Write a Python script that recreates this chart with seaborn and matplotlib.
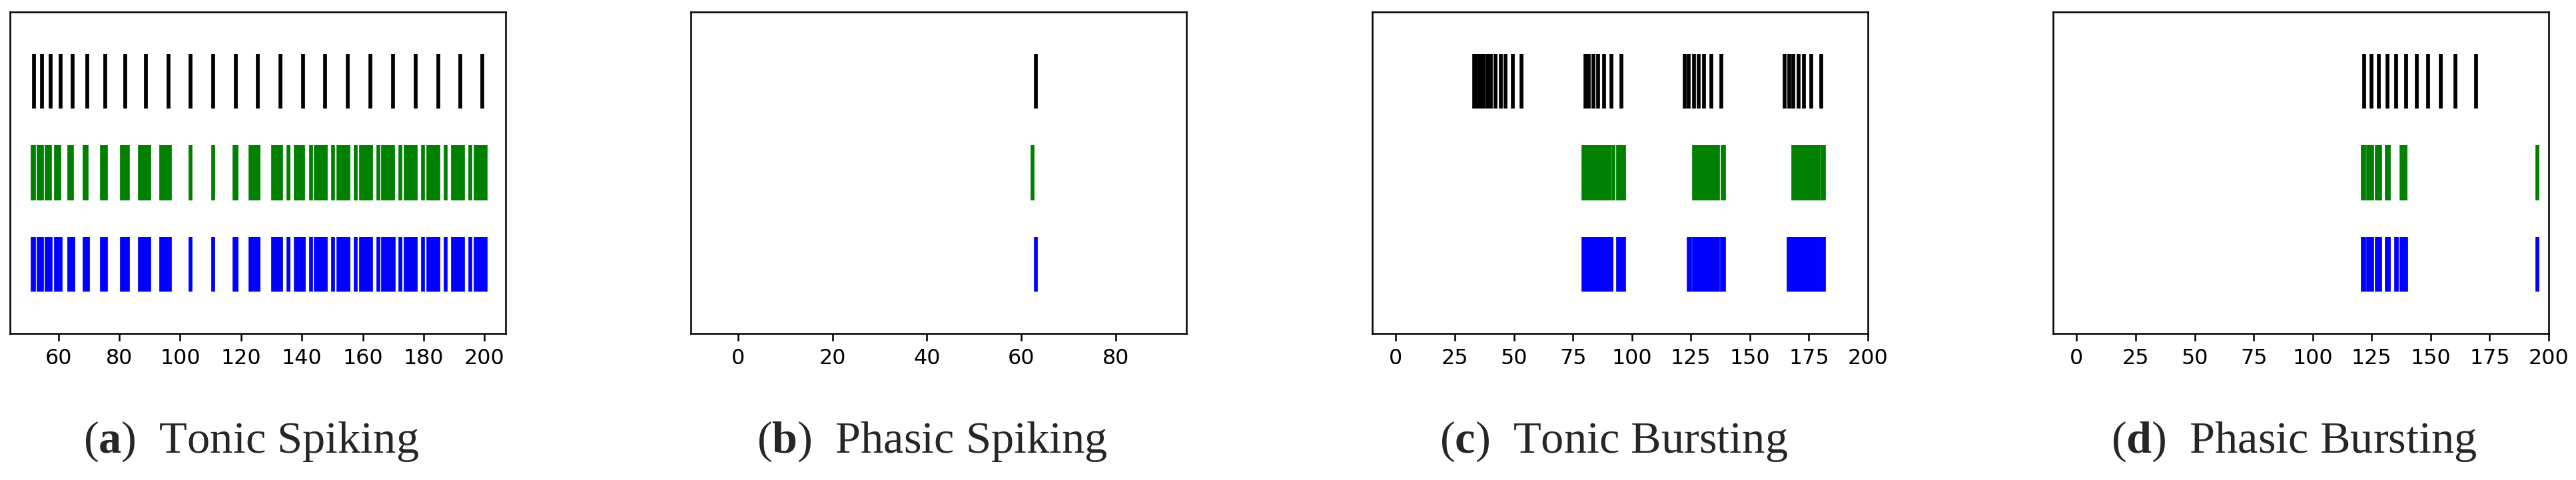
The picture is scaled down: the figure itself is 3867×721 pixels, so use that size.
# Raster plots: reference spikes (black) vs two model outputs (green, blue)
import numpy as np
import seaborn as sns
import matplotlib.pyplot as plt

# ------------- Spike times -------------
# (a) Tonic Spiking
ts_black = [51.9, 54.5, 57.4, 60.7, 64.7, 69.5, 75.5, 81.9, 88.8, 96.1, 103.5, 110.8,
            118.2, 125.6, 133.0, 140.4, 147.7, 155.1, 162.5, 169.9, 177.3, 184.7, 192.0, 199.3]
ts_green = [51.5, 51.9, 53.4, 54.0, 54.7, 56.2, 56.8, 57.3, 59.3, 59.8, 60.3, 63.6, 64.0, 64.4,
            68.6, 69.2, 74.2, 74.9, 75.7, 80.9, 81.6, 82.2, 82.8, 86.8, 87.5, 88.3, 89.0, 89.8,
            93.8, 94.5, 95.2, 96.0, 96.7, 103.5, 110.9, 117.9, 118.5, 123.1, 124.2, 124.9, 125.7,
            130.5, 131.6, 132.4, 133.1, 135.5, 138.0, 138.8, 139.6, 140.4, 142.9,
            144.6, 145.4, 146.2, 147.0, 147.8, 150.3, 152.0, 152.6, 153.7, 154.5, 155.2, 157.6,
            159.5, 160.3, 161.1, 161.9, 162.7, 165.1, 166.6, 167.4, 168.2, 169.0, 169.9, 172.4,
            174.0, 174.8, 175.6, 176.5, 177.3, 179.7, 181.6, 182.4, 183.2, 184.0, 184.8, 187.2,
            189.7, 190.5, 191.3, 192.2, 193.0, 195.3, 197.1, 197.9, 198.7, 199.5, 200.4]
ts_blue = [51.5, 51.9, 53.4, 54.0, 54.7, 56.2, 56.8, 57.5, 59.3, 60.0, 60.7, 63.6, 64.2, 64.9,
           68.6, 69.1, 69.7, 74.2, 74.9, 75.7, 80.9, 81.6, 82.2, 82.8, 86.8, 87.5, 88.3, 89.0, 89.8,
           93.8, 94.5, 95.2, 96.0, 96.7, 103.5, 110.9, 117.9, 118.5, 123.1, 124.2, 124.9, 125.7,
           130.5, 131.6, 132.4, 133.1, 135.5, 138.0, 138.8, 139.6, 140.6, 142.9,
           144.6, 145.4, 146.2, 147.0, 147.8, 150.3, 152.0, 152.6, 153.7, 154.5, 155.2, 157.7,
           159.5, 160.3, 161.1, 161.9, 162.7, 165.1, 166.6, 167.4, 168.3, 169.2, 170.1, 172.4,
           174.0, 174.8, 175.6, 176.5, 177.3, 179.7, 181.6, 182.4, 183.2, 184.0, 184.8, 187.2,
           189.7, 190.5, 191.3, 192.2, 193.0, 195.3, 197.1, 197.9, 198.7, 199.5, 200.4]

# (b) Phasic Spiking
ps_black = [63.1]
ps_green = [62.4]
ps_blue = [63.1]

# (c) Tonic Bursting
tb_black = [33.3, 34.1, 34.9, 35.7, 37.1, 38.7, 40.3, 42.3, 44.4, 46.5, 49.5, 53.3,
            80.2, 81.8, 83.7, 85.7, 88.3, 91.2, 95.6,
            122.5, 124.2, 126.2, 128.2, 130.6, 133.7, 138.0,
            164.8, 166.6, 168.5, 170.7, 172.9, 176.1, 180.3]
tb_green = [79.6, 80.5, 81.4, 82.3, 83.2, 84.1, 85.0, 85.9, 86.7, 88.3, 89.1, 89.9, 90.6, 92.1,
            94.2, 95.1, 95.9, 96.8,
            126.2, 127.1, 128.0, 128.9, 129.8, 130.7, 131.5, 132.4, 133.3, 134.1, 135.0, 135.8,
            136.6, 138.4, 138.9,
            168.5, 169.4, 170.3, 171.2, 172.1, 173.0, 173.9, 174.8, 175.6, 176.5, 177.3, 178.2,
            179.0, 180.8, 181.3]
tb_blue = [79.6, 80.5, 81.4, 82.3, 83.2, 84.1, 85.0, 85.9, 86.7, 88.3, 89.1, 89.9, 90.7, 91.4,
           94.2, 95.1, 95.9, 96.8,
           124.2, 124.5, 126.2, 127.1, 128.0, 128.9, 129.8, 130.7, 131.5, 132.4, 133.3, 134.1,
           135.0, 135.8, 136.6, 138.1, 138.9,
           166.5, 166.9, 168.5, 169.4, 170.3, 171.2, 172.1, 173.0, 173.9, 174.8, 175.6, 176.5,
           177.3, 178.2, 179.0, 180.5, 181.3]

# (d) Phasic Bursting
pb_black = [121.9, 124.9, 128.1, 131.8, 135.5, 139.6, 144.0, 148.8, 154.3, 160.6, 169.1]
pb_green = [121.3, 121.9, 123.6, 124.4, 125.2, 127.2, 128.0, 128.7, 131.5, 132.3,
            137.7, 138.5, 139.2, 195.3]
pb_blue = [121.3, 121.9, 123.6, 124.4, 125.2, 127.2, 128.0, 128.7, 131.5, 132.3,
           135.5, 135.7, 137.7, 138.5, 139.6, 195.3]

captions = ["a", "b", "c", "d"]
titles = ["Tonic Spiking", "Phasic Spiking", "Tonic Bursting", "Phasic Bursting"]
xlims = [(44.1, 206.9), (-10, 95), (-10, 200), (-10, 200)]
xticks = [[60, 80, 100, 120, 140, 160, 180, 200], [0, 20, 40, 60, 80],
          [0, 25, 50, 75, 100, 125, 150, 175, 200], [0, 25, 50, 75, 100, 125, 150, 175, 200]]
trains = [(ts_black, ts_green, ts_blue), (ps_black, ps_green, ps_blue),
          (tb_black, tb_green, tb_blue), (pb_black, pb_green, pb_blue)]

# ------------- Estilo -------------
sns.set_theme(style="ticks", rc={
    "axes.edgecolor": "black", "axes.linewidth": 0.8,
    "xtick.color": "black", "xtick.major.size": 3.5, "xtick.major.width": 0.8,
    "xtick.major.pad": 3.5, "xtick.labelsize": 10, "font.size": 10,
})
plt.rcParams["font.family"] = ["DejaVu Sans"]
plt.rcParams["mathtext.fontset"] = "custom"
plt.rcParams["mathtext.bf"] = "Liberation Serif:bold"
plt.rcParams["mathtext.rm"] = "Liberation Serif"

W, H, DPI = 3867, 721, 229
fig = plt.figure(figsize=(W / DPI, H / DPI), dpi=DPI)

lefts = [15, 1037, 2060, 3082]
for i, left in enumerate(lefts):
    ax = fig.add_axes([left / W, 220 / H, 744 / W, 483 / H])
    black, green, blue = trains[i]
    ax.eventplot([blue, green, black], colors=["blue", "green", "black"],
                 lineoffsets=[0, 1, 2], linelengths=0.6, linewidths=1.8)
    ax.set_xlim(*xlims[i])
    ax.set_ylim(-0.755, 2.755)
    ax.set_xticks(xticks[i])
    ax.set_yticks([])
    for s in ax.spines.values():
        s.set_visible(True)
    # subcaption debajo de cada panel
    fig.text((left + 362) / W, 41 / H, rf"($\mathbf{{{captions[i]}}}$)  {titles[i]}",
             ha="center", va="baseline", family="Liberation Serif", fontsize=21.5)

fig.savefig("out.png", dpi=DPI)
